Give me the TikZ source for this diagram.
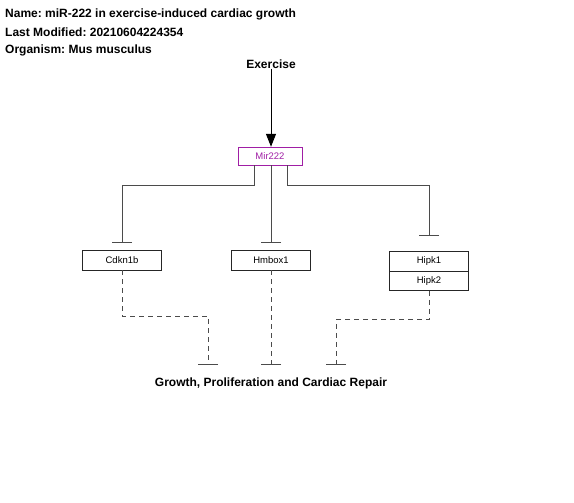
\documentclass[tikz,border=0pt]{standalone}
\usepackage{fontspec}
\setmainfont{Liberation Sans}
\usetikzlibrary{arrows.meta,positioning}
\definecolor{mirpurple}{RGB}{160,30,165}
\definecolor{linegray}{RGB}{75,75,75}
\frenchspacing
\tikzset{
  genebox/.style={draw=black!85, rectangle, minimum width=79pt, minimum height=20pt, inner sep=0pt, font=\fontsize{9.5}{10}\selectfont},
  mirbox/.style={draw=mirpurple, text=mirpurple, rectangle, minimum width=64pt, minimum height=18pt, inner sep=0pt, font=\fontsize{9.5}{10}\selectfont},
  label/.style={font=\fontsize{12}{13}\selectfont\bfseries, inner sep=0pt},
  inhib/.style={draw=linegray, line width=1pt, -{Bar[width=20pt,line width=1pt]}},
  inhibdash/.style={inhib, dash pattern=on 5pt off 4pt},
}

\begin{document}
\begin{tikzpicture}[x=1pt, y=-1pt]
\useasboundingbox (0,0) rectangle (574,503);
%header
\foreach \row/\Text in {14/{Name: miR-222 in exercise-induced cardiac growth},
                        32/{Last Modified: 20210604224354},
                        50/{Organism: Mus musculus}}
  \node[label, anchor=west] at (5,\row) {\Text};

%nodes
\node[label]   (exercise) at (271,64)  {Exercise};
\node[mirbox]  (mir)      at (270,156) {Mir222};
\node[genebox] (cdkn)     at (122,260) {Cdkn1b};
\node[genebox] (hmbox)    at (271,260) {Hmbox1};
\node[genebox, minimum height=19.5pt] (hipka) at (429,261) {Hipk1};
\node[genebox, minimum height=19.5pt, below=0pt of hipka] (hipkb) {Hipk2};
\node[label]   (growth)   at (271,383) {Growth, Proliferation and Cardiac Repair};

%targets above the phenotype
\foreach \name/\dx in {ta/-63, tb/0, tc/65}
  \coordinate (\name) at ([xshift=\dx pt, yshift=12pt]growth.north);

%exercise -> mir222
\draw[black, line width=1pt, -{Triangle[width=10pt,length=13pt]}] (exercise.south) -- (exercise.south |- mir.north);

%mir222 inhibits targets
\draw[inhib, shorten >=7pt] ([xshift=-16pt]mir.south) -- ++(0,20) -| (cdkn.north);
\draw[inhib, shorten >=7pt] ([xshift=1pt]mir.south) -- (hmbox.north);
\draw[inhib, shorten >=15pt] ([xshift=17pt]mir.south) -- ++(0,20) -| (hipka.north);

%targets inhibit phenotype
\draw[inhibdash] (cdkn.south) -- ++(0,46) -| (ta);
\draw[inhibdash] (hmbox.south) -- (tb);
\draw[inhibdash] (hipkb.south) -- ++(0,29) -| (tc);
\end{tikzpicture}
\end{document}
